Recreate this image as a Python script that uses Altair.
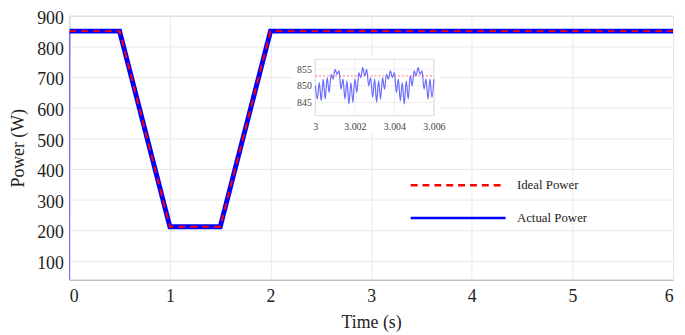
import altair as alt
import pandas as pd

# ---------------- data ----------------
series_names = ["Ideal Power", "Actual Power"]

ideal_time = [0.0, 0.5, 1.0, 1.5, 2.0, 6.0]
ideal_power = [850, 850, 210, 210, 850, 850]

actual_time = [0.003, 0.5, 1.0, 1.5, 2.0, 6.0]
actual_power = [850, 850, 210, 210, 850, 850]

startup_time = [0.0, 0.003]
startup_power = [0, 850]

x_ticks = [0, 1, 2, 3, 4, 5, 6]
y_ticks = [100, 200, 300, 400, 500, 600, 700, 800, 900]

# inset (zoom of 3.000 s - 3.006 s), sampled every 0.1 ms
inset_power = [850, 846, 851, 845.5, 852, 846, 852.5, 848, 853.5, 852,
               855, 853.5, 854.5, 849, 852, 846, 851.5, 844.5, 851, 845,
               852, 848, 854, 852.5, 855.5, 853, 855, 850, 852.5, 846.5,
               852, 845, 851.5, 846, 852.5, 849, 853.5, 852, 854.5, 852.5,
               854, 848, 852, 845.5, 851, 844.5, 851.5, 846, 853, 850,
               854.5, 853, 855.5, 853.5, 854.5, 849, 852, 846, 852, 846.5,
               852]
inset_time = [3 + k / 10000 for k in range(len(inset_power))]
inset_ideal_time = [3.0, 3.006]
inset_ideal_power = [853, 853]
inset_x_ticks = [3, 3.002, 3.004, 3.006]
inset_y_ticks = [845, 850, 855]

FONT = "Liberation Serif"

# ---------------- main chart ----------------
ideal_df = pd.DataFrame({"t": ideal_time, "p": ideal_power, "s": series_names[0]})
actual_df = pd.DataFrame({"t": actual_time, "p": actual_power, "s": series_names[1]})
startup_df = pd.DataFrame({"t": startup_time, "p": startup_power})

PLOT_H = 267

xaxis = alt.Axis(values=x_ticks, title="Time (s)", grid=True, gridColor="#e9e9e9",
                 ticks=False, domain=False, labelFont=FONT, labelFontSize=18,
                 labelColor="#222", labelPadding=8, titleFont=FONT, titleFontSize=18,
                 titleFontWeight="normal", titleColor="#222", titlePadding=8,
                 format="d")
yaxis = alt.Axis(values=y_ticks, title="Power (W)", grid=True, gridColor="#e9e9e9",
                 ticks=False, domain=False, labelFont=FONT, labelFontSize=18,
                 labelColor="#222", labelPadding=6, labelOffset=3, titleFont=FONT,
                 titleFontSize=18, titleFontWeight="normal", titleColor="#222",
                 titlePadding=9)
xs = alt.Scale(domain=[0, 6], nice=False)
ys = alt.Scale(domain=[37, 900], nice=False)

legend = alt.Legend(title=None, orient="none", legendX=344, legendY=158,
                    symbolType="M-1,0H7", symbolSize=576, symbolStrokeWidth=2.5,
                    labelFont=FONT, labelFontSize=13, labelColor="#222",
                    rowPadding=12, padding=0, labelOffset=82)
color = alt.Color("s:N", scale=alt.Scale(domain=series_names, range=["#ff0000", "#0000ff"]),
                  legend=legend)
dash = alt.StrokeDash("s:N", scale=alt.Scale(domain=series_names, range=[[7, 5], [1, 0]]),
                      legend=legend)

startup = alt.Chart(startup_df).mark_line(color="#4b4bff", strokeWidth=1.5, clip=True).encode(
    x=alt.X("t:Q", scale=xs, axis=xaxis),
    y=alt.Y("p:Q", scale=ys, axis=yaxis),
)
actual = alt.Chart(actual_df).mark_line(strokeWidth=5, clip=True).encode(
    x=alt.X("t:Q", scale=xs, axis=xaxis),
    y=alt.Y("p:Q", scale=ys, axis=yaxis),
    color=color, strokeDash=dash,
)
ideal = alt.Chart(ideal_df).mark_line(strokeWidth=2, clip=True).encode(
    x=alt.X("t:Q", scale=xs, axis=xaxis),
    y=alt.Y("p:Q", scale=ys, axis=yaxis),
    color=color, strokeDash=dash,
)
main = alt.layer(startup, actual, ideal)

# ---------------- inset ----------------
INSET_BOTTOM = 101
INSET_TOP = 44
ixs = alt.Scale(domain=[3, 3.006], range=[249, 369], nice=False, zero=False)
iys = alt.Scale(domain=[841, 858], range=[INSET_BOTTOM, INSET_TOP], nice=False, zero=False)
ixaxis = alt.Axis(values=inset_x_ticks, orient="bottom", offset=-(PLOT_H - INSET_BOTTOM),
                  grid=False, ticks=False, domain=False, title=None, labelFont=FONT,
                  labelFontSize=10, labelColor="#444", labelPadding=6, labelFlush=False,
                  format="~g", zindex=2)
iyaxis = alt.Axis(values=inset_y_ticks, orient="left", offset=-249, grid=False,
                  ticks=False, domain=False, title=None, labelFont=FONT, labelFontSize=10,
                  labelColor="#444", labelPadding=4, zindex=2)

inset_df = pd.DataFrame({"t": inset_time, "p": inset_power})
inset_ideal_df = pd.DataFrame({"t": inset_ideal_time, "p": inset_ideal_power})
one = pd.DataFrame({"a": [0]})

bg = alt.Chart(one).mark_rect(color="white").encode(
    x=alt.X(datum=2.9989, scale=ixs, axis=ixaxis), x2=alt.X2(datum=3.0063),
    y=alt.Y(datum=835.5, scale=iys, axis=iyaxis), y2=alt.Y2(datum=858.9),
)
gridv = alt.Chart(pd.DataFrame({"t": inset_x_ticks})).mark_rule(color="#eeeeee", strokeWidth=1).encode(
    x=alt.X("t:Q", scale=ixs, axis=ixaxis),
    y=alt.Y(datum=841, scale=iys, axis=iyaxis), y2=alt.Y2(datum=858),
)
gridh = alt.Chart(pd.DataFrame({"p": inset_y_ticks})).mark_rule(color="#eeeeee", strokeWidth=1).encode(
    y=alt.Y("p:Q", scale=iys, axis=iyaxis),
    x=alt.X(datum=3, scale=ixs, axis=ixaxis), x2=alt.X2(datum=3.006),
)
frame = alt.Chart(one).mark_rect(fill=None, stroke="#dddddd", strokeWidth=1).encode(
    x=alt.X(datum=3, scale=ixs, axis=ixaxis), x2=alt.X2(datum=3.006),
    y=alt.Y(datum=841, scale=iys, axis=iyaxis), y2=alt.Y2(datum=858),
)
ired = alt.Chart(inset_ideal_df).mark_line(color="#ff7070", strokeWidth=1, strokeDash=[2, 2]).encode(
    x=alt.X("t:Q", scale=ixs, axis=ixaxis),
    y=alt.Y("p:Q", scale=iys, axis=iyaxis),
)
iblue = alt.Chart(inset_df).mark_line(color="#6a6aff", strokeWidth=1.2, interpolate="monotone").encode(
    x=alt.X("t:Q", scale=ixs, axis=ixaxis),
    y=alt.Y("p:Q", scale=iys, axis=iyaxis),
)
inset = alt.layer(bg, gridv, gridh, frame, ired, iblue)

chart = alt.layer(main, inset).resolve_scale(x="independent", y="independent").properties(
    width=611, height=PLOT_H,
    autosize=alt.AutoSizeParams(type="none"),
    padding={"left": 62, "top": 6, "right": 4, "bottom": 52},
    background="white",
).configure(font=FONT).configure_axis(labelFont=FONT, titleFont=FONT).configure_legend(
    labelFont=FONT
).configure_view(stroke="#a0a0a0", strokeWidth=1)

chart.save("out.html", embed_options={"renderer": "svg", "actions": False})
